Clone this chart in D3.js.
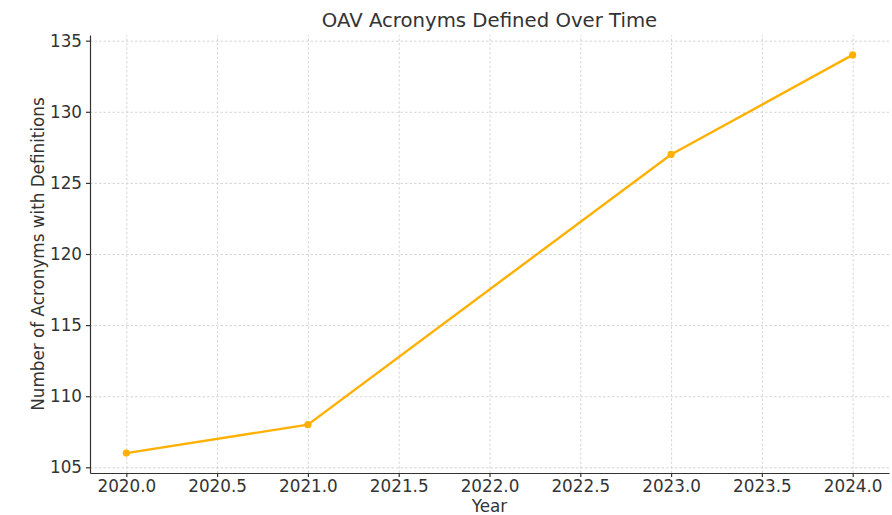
<!DOCTYPE html>
<html>
<head>
  <script src="https://d3js.org/d3.v7.min.js"></script>
  <style>
    body { margin: 0; background: #fff; }
    text { font-family: "DejaVu Sans", sans-serif; fill: #333; }
    .grid line { stroke: #ccc; stroke-dasharray: 2.5,2; stroke-width: 0.8; }
    .grid .domain { stroke: none; }
    .axis path, .axis line { stroke: #333; stroke-width: 1.2; }
  </style>
</head>
<body>
<svg id="chart" width="892" height="515"></svg>
<script>
  // data
  const years = [2020, 2021, 2023, 2024];
  const counts = [106, 108, 127, 134];
  const xTicks = [2020.0, 2020.5, 2021.0, 2021.5, 2022.0, 2022.5, 2023.0, 2023.5, 2024.0];
  const yTicks = [105, 110, 115, 120, 125, 130, 135];

  const svg = d3.select("#chart");
  const margin = {top: 35, right: 3, bottom: 42, left: 90};
  const width = +svg.attr("width") - margin.left - margin.right;
  const height = +svg.attr("height") - margin.top - margin.bottom;

  const g = svg.append("g").attr("transform", `translate(${margin.left},${margin.top})`);

  const x = d3.scaleLinear().domain([2019.8, 2024.2]).range([0, width]);
  const y = d3.scaleLinear().domain([104.6, 135.4]).range([height, 0]);

  // gridlines
  g.append("g").attr("class", "grid")
    .attr("transform", `translate(0,${height})`)
    .call(d3.axisBottom(x).tickValues(xTicks).tickSize(-height).tickFormat(""));
  g.append("g").attr("class", "grid")
    .call(d3.axisLeft(y).tickValues(yTicks).tickSize(-width).tickFormat(""));

  // axes
  g.append("g").attr("class", "axis")
    .attr("transform", `translate(0,${height})`)
    .call(d3.axisBottom(x).tickValues(xTicks).tickSize(4).tickPadding(3).tickSizeOuter(0).tickFormat(d3.format(".1f")))
    .selectAll("text").style("font-size", "16.8px").attr("fill", "#333");
  g.append("g").attr("class", "axis")
    .call(d3.axisLeft(y).tickValues(yTicks).tickSize(4).tickPadding(4).tickSizeOuter(0))
    .selectAll("text").style("font-size", "16.8px").attr("fill", "#333");

  const data = years.map((d, i) => ({year: d, count: counts[i]}));

  g.append("path").datum(data)
    .attr("fill", "none")
    .attr("stroke", "#FFB000")
    .attr("stroke-width", 2.4)
    .attr("d", d3.line().x(d => x(d.year)).y(d => y(d.count)));

  g.selectAll("circle").data(data).join("circle")
    .attr("cx", d => x(d.year))
    .attr("cy", d => y(d.count))
    .attr("r", 3.6)
    .attr("fill", "#FFB000");

  // labels
  svg.append("text")
    .attr("x", margin.left + width / 2).attr("y", 27)
    .attr("text-anchor", "middle").style("font-size", "19.7px")
    .text("OAV Acronyms Defined Over Time");
  svg.append("text")
    .attr("x", margin.left + width / 2).attr("y", 512)
    .attr("text-anchor", "middle").style("font-size", "16.8px")
    .text("Year");
  svg.append("text")
    .attr("transform", `translate(44,${margin.top + height / 2}) rotate(-90)`)
    .attr("text-anchor", "middle").style("font-size", "16.8px")
    .text("Number of Acronyms with Definitions");
</script>
</body>
</html>
